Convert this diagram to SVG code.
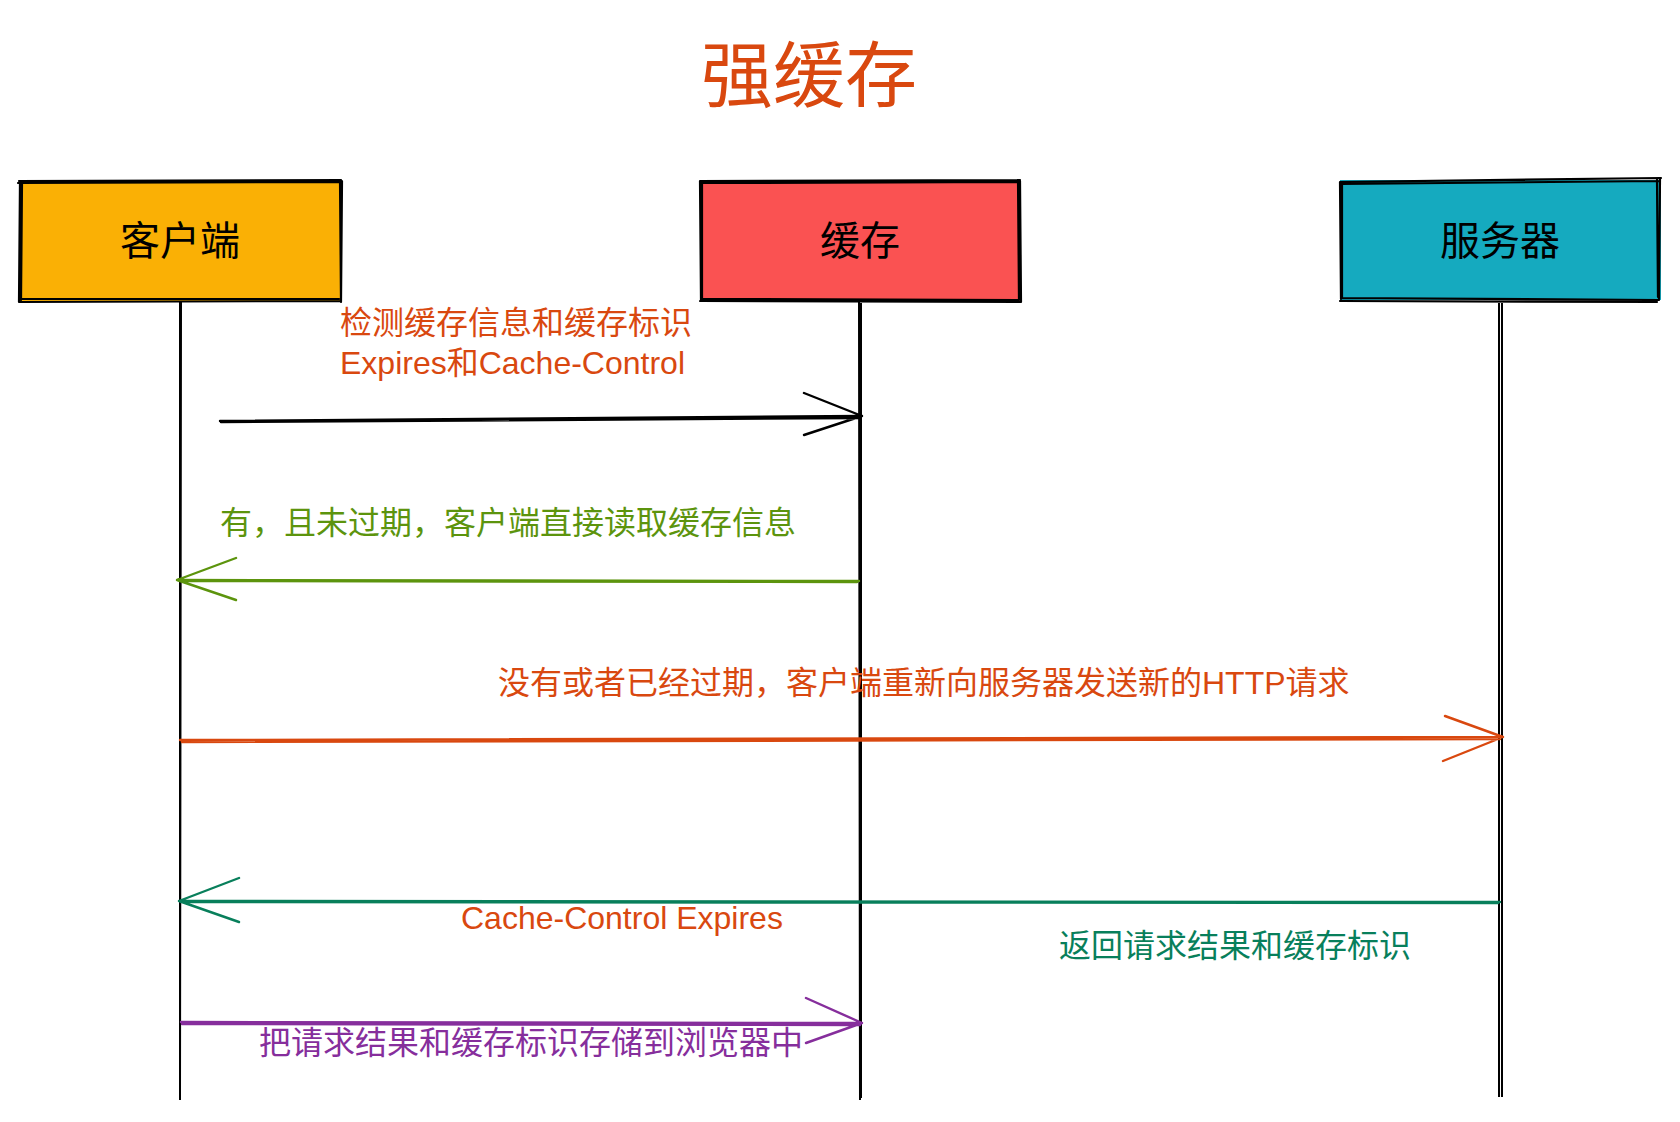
<svg xmlns="http://www.w3.org/2000/svg" width="1680" height="1122" viewBox="0 0 1680 1122">
<style>
.t{font-family:"Liberation Sans","Noto Sans CJK SC",sans-serif;}
.lab{font-size:32px;}
.box{font-size:40px;fill:#000;text-anchor:middle;}
.edge{fill:none;stroke:#000;stroke-width:2.2;stroke-linecap:round;}
.life{fill:none;stroke:#000;stroke-width:2;}
.ar{fill:none;stroke-width:2.4;stroke-linecap:round;stroke-linejoin:round;}
</style>
<rect width="1680" height="1122" fill="#fff"/>
<text class="t" x="809" y="101" font-size="72" fill="#d9480f" text-anchor="middle">强缓存</text>

<g id="node-client">
<rect x="19" y="180" width="322" height="122" fill="#fab005"/>
<path class="edge" d="M19 181 L341 180 M18 183 L340 182 M340 180 L341 302 M342 181 L341 301 M341 301 L19 302 M339 299 L20 299 M20 181 L19 302 M22 182 L21 300"/>
<text class="t box" x="180" y="255">客户端</text>
</g>
<g id="node-cache">
<rect x="700" y="180" width="320" height="122" fill="#fa5252"/>
<path class="edge" d="M700 181 L1020 180 M701 183 L1018 182 M1020 181 L1021 302 M1018 180 L1019 300 M1020 302 L700 301 M1018 300 L701 299 M700 181 L701 300 M702 183 L702 298"/>
<text class="t box" x="860" y="255">缓存</text>
</g>
<g id="node-server">
<rect x="1340" y="180" width="321" height="120" fill="#15aabf"/>
<path class="edge" d="M1340 182 L1661 178 M1341 184 L1659 181 M1660 178 L1659 299 M1657 180 L1658 297 M1659 300 L1341 298 M1657 302 L1340 301 M1340 182 L1341 299 M1342 183 L1342 297"/>
<text class="t box" x="1500" y="255">服务器</text>
</g>

<g id="connectors">
<path class="life" d="M180 302 L180 1100 M181 302 L180 1098"/>
<path class="life" d="M859 302 L860 1100 M861 303 L861 1098"/>
<path class="life" d="M1499 303 L1499 1097 M1502 303 L1502 1097"/>

<path class="ar" stroke="#000" d="M220 421 L862 416 M221 422 L860 418 M804 393 L862 416 L804 435"/>
<path class="ar" stroke="#5c940d" d="M859 581 L177 580 M857 582 L180 581 M236 558 L177 580 L236 600"/>
<path class="ar" stroke="#d9480f" d="M180 740 L1503 737 M182 742 L1500 739 M1445 716 L1503 737 L1443 761"/>
<path class="ar" stroke="#087f5b" d="M1500 902 L179 901 M1498 903 L181 902 M239 878 L179 901 L239 922"/>
<path class="ar" stroke="#862e9c" d="M181 1022 L862 1023 M182 1024 L860 1025 M806 998 L862 1023 L806 1043"/>
</g>

<g id="labels">
<text class="t lab" x="340" y="334" fill="#d9480f">检测缓存信息和缓存标识</text>
<text class="t lab" x="340" y="374" fill="#d9480f">Expires和Cache-Control</text>
<text class="t lab" x="220" y="534" fill="#5c940d">有，且未过期，客户端直接读取缓存信息</text>
<text class="t lab" x="498" y="694" fill="#d9480f">没有或者已经过期，客户端重新向服务器发送新的HTTP请求</text>
<text class="t lab" x="461" y="929" fill="#d9480f">Cache-Control Expires</text>
<text class="t lab" x="1059" y="957" fill="#087f5b">返回请求结果和缓存标识</text>
<text class="t lab" x="259" y="1054" fill="#862e9c">把请求结果和缓存标识存储到浏览器中</text>
</g>
</svg>
